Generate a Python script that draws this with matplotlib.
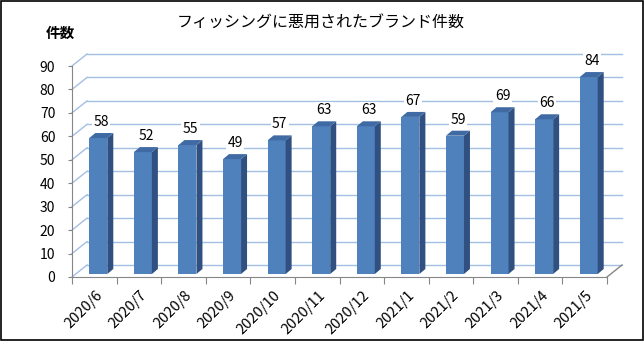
import matplotlib
matplotlib.use('Agg')
import matplotlib.pyplot as plt
from matplotlib.patches import Polygon, Rectangle
import numpy as np

plt.rcParams['font.family'] = ['Noto Sans CJK JP', 'DejaVu Sans']

# データ
months = ['2020/6', '2020/7', '2020/8', '2020/9', '2020/10', '2020/11',
          '2020/12', '2021/1', '2021/2', '2021/3', '2021/4', '2021/5']
counts = [58, 52, 55, 49, 57, 63, 63, 67, 59, 69, 66, 84]
yticks = list(range(0, 100, 10))
title = 'フィッシングに悪用されたブランド件数'
ylabel = '件数'

c_front = '#4f81bd'
c_side = '#2f5080'
c_top = '#3f6aa3'
c_grid = '#a3bfe2'
c_axis = '#868686'

fig = plt.figure(figsize=(6.44, 3.41), dpi=100)
ax = fig.add_axes([72/644, 64/341, 535/644, 211/341])
n = len(months)
ax.set_xlim(-0.5, n - 0.5)
ax.set_ylim(0, 90)

# pixel -> data units
bb = ax.get_window_extent()
ux = n / bb.width
uy = 90 / bb.height

# back wall / left wall
gx, gy = 15 * ux, 12 * uy
for v in yticks:
    ax.plot([-0.5 + gx, n - 0.5 + gx], [v + gy, v + gy], color=c_grid, lw=1,
            clip_on=False, zorder=1)
    ax.plot([-0.5, -0.5 + gx], [v, v + gy], color=c_grid, lw=1,
            clip_on=False, zorder=1)
ax.plot([n - 0.5, n - 0.5 + gx], [0, gy], color=c_axis, lw=1, clip_on=False, zorder=1)

# 3D bars
bx, by = 4 * ux, 3 * uy
w = 18 * ux
dx, dy = 6 * ux, 5 * uy
x = np.arange(n)
ax.bar(x + bx, counts, width=w, bottom=by, color=c_front, zorder=3, clip_on=False)
for i, v in enumerate(counts):
    x0 = i + bx - w / 2
    x1 = x0 + w
    y0, y1 = by, v + by
    ax.add_patch(Polygon([(x1, y0), (x1 + dx, y0 + dy), (x1 + dx, y1 + dy), (x1, y1)],
                         closed=True, facecolor=c_side, edgecolor='none', zorder=3, clip_on=False))
    ax.add_patch(Polygon([(x0, y1), (x1, y1), (x1 + dx, y1 + dy), (x0 + dx, y1 + dy)],
                         closed=True, facecolor=c_top, edgecolor='none', zorder=3, clip_on=False))
    ax.annotate(str(v), (i + bx + dx / 2, y1 + dy), xytext=(0, 3), textcoords='offset points',
                ha='center', va='bottom', fontsize=10, zorder=4,
                bbox=dict(facecolor='white', edgecolor='none', pad=1))

# axes
for s in ['top', 'right']:
    ax.spines[s].set_visible(False)
for s in ['left', 'bottom']:
    ax.spines[s].set_color(c_axis)
ax.set_yticks(yticks)
ax.tick_params(axis='y', direction='out', length=3, color=c_axis, pad=9, labelsize=10)
ax.set_xticks(np.arange(-0.5, n), labels=[''] * (n + 1))
ax.tick_params(axis='x', which='major', direction='out', length=5, color=c_axis)
ax.set_xticks(x + 0.02, minor=True)
ax.set_xticklabels(months, minor=True, rotation=45, ha='right', rotation_mode='anchor', fontsize=10.5)
ax.tick_params(axis='x', which='minor', length=0, pad=8)
ax.patch.set_visible(False)

fig.text(321/644, 1 - 22/341, title, ha='center', va='center', fontsize=11.5)
fig.text(60/644, 1 - 33/341, ylabel, ha='center', va='center', fontsize=10.5, fontweight='bold')

fig.patches.append(Rectangle((0.001, 0.002), 0.997, 0.996, transform=fig.transFigure,
                             fill=False, edgecolor='black', lw=1.2))

fig.savefig('out.png', dpi=100, facecolor='white')
